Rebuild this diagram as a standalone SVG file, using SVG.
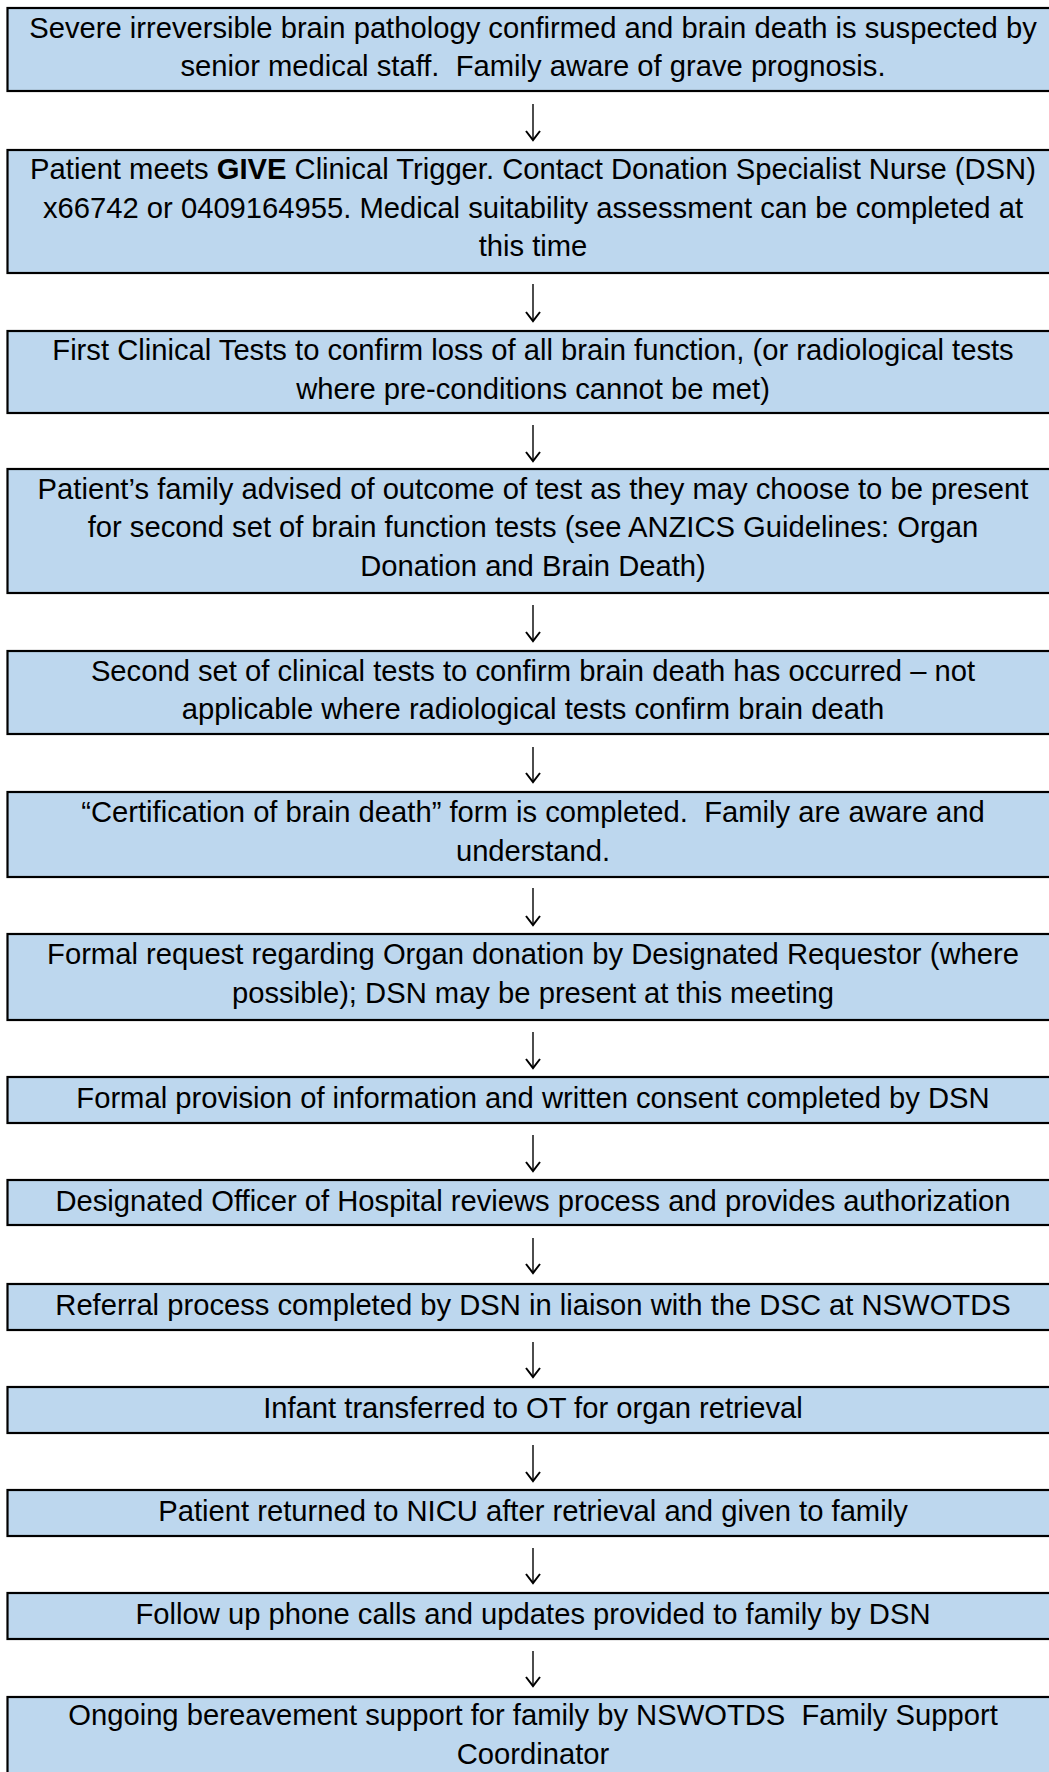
<svg xmlns="http://www.w3.org/2000/svg" width="1049" height="1772" viewBox="0 0 1049 1772">
<style>
.box{fill:#BDD7EE;stroke:#000;stroke-width:2.2}
.t{font-family:"Liberation Sans",Arial,sans-serif;font-size:29.2px;fill:#000;text-anchor:middle}
.b{font-weight:bold}
.c{stroke:#000;stroke-width:1.4;fill:none}
</style>
<defs>
<marker id="ah" viewBox="0 0 12 16" refX="10" refY="8" markerWidth="12" markerHeight="16" markerUnits="userSpaceOnUse" orient="auto">
<path d="M1,1 L10,8 L1,15" fill="none" stroke="#000" stroke-width="2"/>
</marker>
</defs>
<rect width="1049" height="1772" fill="#fff"/>
<g id="n1"><rect class="box" x="7.5" y="8" width="1060" height="83"/>
<text class="t" x="533" y="37.5" xml:space="preserve">Severe irreversible brain pathology confirmed and brain death is suspected by</text>
<text class="t" x="533" y="76" xml:space="preserve">senior medical staff.  Family aware of grave prognosis.</text></g>
<g id="n2"><rect class="box" x="7.5" y="150" width="1060" height="123"/>
<text class="t" x="533" y="179">Patient meets <tspan class="b">GIVE</tspan> Clinical Trigger. Contact Donation Specialist Nurse (DSN)</text>
<text class="t" x="533" y="217.5">x66742 or 0409164955. Medical suitability assessment can be completed at</text>
<text class="t" x="533" y="256">this time</text></g>
<g id="n3"><rect class="box" x="7.5" y="331" width="1060" height="82"/>
<text class="t" x="533" y="360">First Clinical Tests to confirm loss of all brain function, (or radiological tests</text>
<text class="t" x="533" y="398.5">where pre-conditions cannot be met)</text></g>
<g id="n4"><rect class="box" x="7.5" y="469" width="1060" height="124"/>
<text class="t" x="533" y="498.5">Patient’s family advised of outcome of test as they may choose to be present</text>
<text class="t" x="533" y="537">for second set of brain function tests (see ANZICS Guidelines: Organ</text>
<text class="t" x="533" y="575.5">Donation and Brain Death)</text></g>
<g id="n5"><rect class="box" x="7.5" y="651" width="1060" height="83"/>
<text class="t" x="533" y="680.5">Second set of clinical tests to confirm brain death has occurred – not</text>
<text class="t" x="533" y="719">applicable where radiological tests confirm brain death</text></g>
<g id="n6"><rect class="box" x="7.5" y="792" width="1060" height="85"/>
<text class="t" x="533" y="822" xml:space="preserve">“Certification of brain death” form is completed.  Family are aware and</text>
<text class="t" x="533" y="860.5">understand.</text></g>
<g id="n7"><rect class="box" x="7.5" y="934" width="1060" height="86"/>
<text class="t" x="533" y="964">Formal request regarding Organ donation by Designated Requestor (where</text>
<text class="t" x="533" y="1002.5">possible); DSN may be present at this meeting</text></g>
<g id="n8"><rect class="box" x="7.5" y="1077" width="1060" height="46"/>
<text class="t" x="533" y="1108">Formal provision of information and written consent completed by DSN</text></g>
<g id="n9"><rect class="box" x="7.5" y="1180" width="1060" height="45"/>
<text class="t" x="533" y="1211">Designated Officer of Hospital reviews process and provides authorization</text></g>
<g id="n10"><rect class="box" x="7.5" y="1284" width="1060" height="46"/>
<text class="t" x="533" y="1315">Referral process completed by DSN in liaison with the DSC at NSWOTDS</text></g>
<g id="n11"><rect class="box" x="7.5" y="1387" width="1060" height="46"/>
<text class="t" x="533" y="1418">Infant transferred to OT for organ retrieval</text></g>
<g id="n12"><rect class="box" x="7.5" y="1490" width="1060" height="46"/>
<text class="t" x="533" y="1521">Patient returned to NICU after retrieval and given to family</text></g>
<g id="n13"><rect class="box" x="7.5" y="1593" width="1060" height="46"/>
<text class="t" x="533" y="1624">Follow up phone calls and updates provided to family by DSN</text></g>
<g id="n14"><rect class="box" x="7.5" y="1697" width="1060" height="100"/>
<text class="t" x="533" y="1725" xml:space="preserve">Ongoing bereavement support for family by NSWOTDS  Family Support</text>
<text class="t" x="533" y="1764">Coordinator</text></g>
<g id="connectors">
<line class="c" x1="533" y1="104" x2="533" y2="140" marker-end="url(#ah)"/>
<line class="c" x1="533" y1="284" x2="533" y2="321" marker-end="url(#ah)"/>
<line class="c" x1="533" y1="425" x2="533" y2="461" marker-end="url(#ah)"/>
<line class="c" x1="533" y1="605" x2="533" y2="641" marker-end="url(#ah)"/>
<line class="c" x1="533" y1="747" x2="533" y2="782" marker-end="url(#ah)"/>
<line class="c" x1="533" y1="888" x2="533" y2="925" marker-end="url(#ah)"/>
<line class="c" x1="533" y1="1032" x2="533" y2="1068" marker-end="url(#ah)"/>
<line class="c" x1="533" y1="1135" x2="533" y2="1171" marker-end="url(#ah)"/>
<line class="c" x1="533" y1="1238" x2="533" y2="1273" marker-end="url(#ah)"/>
<line class="c" x1="533" y1="1342" x2="533" y2="1377" marker-end="url(#ah)"/>
<line class="c" x1="533" y1="1445" x2="533" y2="1481" marker-end="url(#ah)"/>
<line class="c" x1="533" y1="1548" x2="533" y2="1583" marker-end="url(#ah)"/>
<line class="c" x1="533" y1="1651" x2="533" y2="1686" marker-end="url(#ah)"/>
</g>
</svg>
